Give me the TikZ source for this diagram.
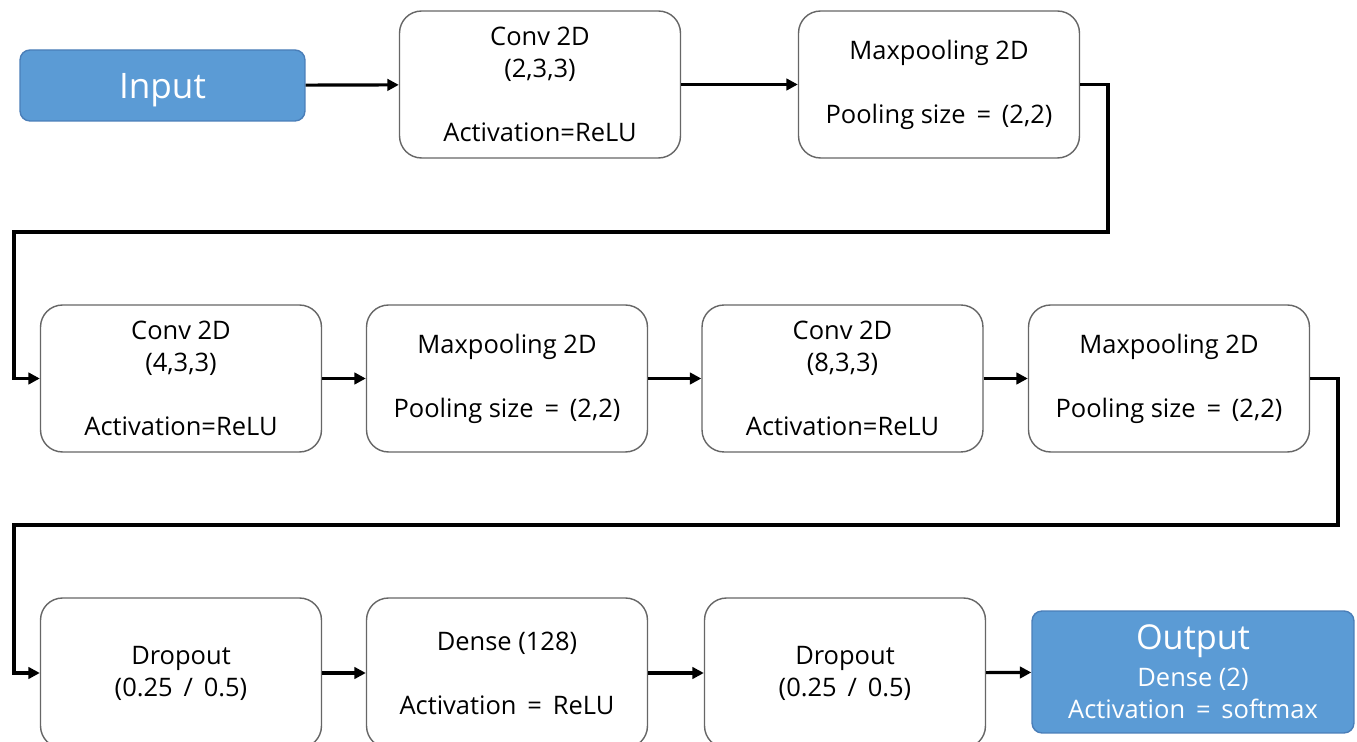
\documentclass[tikz,border=0pt]{standalone}
\usepackage{fontspec}
\setmainfont{Open Sans}
\usetikzlibrary{arrows.meta}

\definecolor{ioblue}{HTML}{5B9BD5}
\definecolor{iodark}{HTML}{4A7EB8}

\begin{document}
\begin{tikzpicture}[x=0.02cm,y=-0.02cm,
	>={Triangle[length=6.5pt,width=6.5pt]},
	]

	\tikzset{layer box/.style={
				draw=black!60,
				line width=0.8pt,
				fill=white,
				rounded corners=0.44cm,
				inner sep=0pt,
				minimum width=5.62cm,
				minimum height=2.94cm,
				align=center,
				font=\fontsize{14.5}{18.2}\selectfont}
	}
	\tikzset{io box/.style={
				draw=iodark,
				line width=0.8pt,
				fill=ioblue,
				text=white,
				rounded corners=0.2cm,
				inner sep=0pt,
				align=center}
	}
	\tikzset{flow arrow/.style={->,line width=1.8pt}}

	\clip (0,0) rectangle (1357,742);

	% first row
	\node[io box,minimum width=5.7cm,minimum height=1.42cm,text depth=0pt,font=\fontsize{20}{24}\selectfont] (in) at (162.5,85.5) {Input};
	\node[layer box] (c1) at (540,84.5) {Conv 2D\\(2,3,3)\\[18.2pt]Activation=ReLU};
	\node[layer box] (p1) at (939,84.5) {Maxpooling 2D\\[18.2pt]Pooling size \,=\, (2,2)};

	% second row
	\node[layer box] (c2) at (181,378.5) {Conv 2D\\(4,3,3)\\[18.2pt]Activation=ReLU};
	\node[layer box] (p2) at (507,378.5) {Maxpooling 2D\\[18.2pt]Pooling size \,=\, (2,2)};
	\node[layer box] (c3) at (842.5,378.5) {Conv 2D\\(8,3,3)\\[18.2pt]Activation=ReLU};
	\node[layer box] (p3) at (1169,378.5) {Maxpooling 2D\\[18.2pt]Pooling size \,=\, (2,2)};

	% third row, cut at the bottom edge
	\node[layer box,minimum height=3cm] (d1) at (181,673) {Dropout\\(0.25 \,/\, 0.5)};
	\node[layer box,minimum height=3cm] (dense) at (507,673) {Dense (128)\\[18.2pt]Activation \,=\, ReLU};
	\node[layer box,minimum height=3cm] (d2) at (845,673) {Dropout\\(0.25 \,/\, 0.5)};
	\node[io box,minimum width=6.44cm,minimum height=2.44cm,font=\fontsize{14.5}{18.2}\selectfont] (out) at (1193,672)
	{{\fontsize{19.5}{22}\selectfont Output}\\[3pt]Dense (2)\\Activation \,=\, softmax};

	% turns between the rows
	\coordinate (r1) at (1108,232);
	\coordinate (l1) at (14,232);
	\coordinate (r2) at (1338,525);
	\coordinate (l2) at (14,525);

	\foreach \a/\b in {in/c1, c1/p1, c2/p2, p2/c3, c3/p3, d1/dense, dense/d2, d2/out} {
			\draw[flow arrow] (\a) -- (\b);
		}

	\draw[flow arrow] (p1) -| (r1) -- (l1) |- (c2);
	\draw[flow arrow] (p3) -| (r2) -- (l2) |- (d1);

\end{tikzpicture}
\end{document}
